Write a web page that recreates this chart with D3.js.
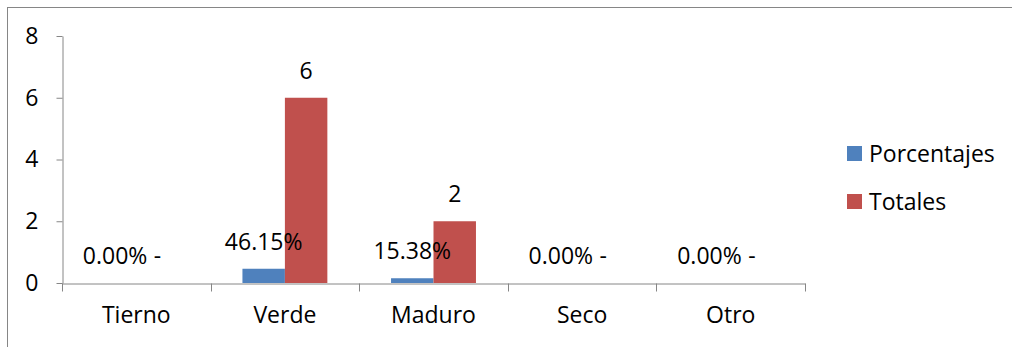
<!DOCTYPE html>
<html>
<head>
<meta charset="utf-8">
<script src="https://cdn.jsdelivr.net/npm/d3@7"></script>
<style>
  html, body { margin: 0; padding: 0; background: #fff; }
  svg { display: block; font-family: "Open Sans", sans-serif; }
</style>
</head>
<body>
<svg id="chart" width="1012" height="347"></svg>
<script>
// Categories and series
const categories = ["Tierno", "Verde", "Maduro", "Seco", "Otro"];
const seriesNames = ["Porcentajes", "Totales"];
const porcentajes = [0, 0.4615, 0.1538, 0, 0];
const totales = [0, 6, 2, 0, 0];
const yTicks = [0, 2, 4, 6, 8];

const colors = { Porcentajes: "#4F81BD", Totales: "#C0504D" };
const axisColor = "#868686";
const fontSize = 23;

const svg = d3.select("#chart");

// Outer chart frame
svg.append("rect")
  .attr("x", 7.5).attr("y", 7.5)
  .attr("width", 1040).attr("height", 380)
  .attr("fill", "none").attr("stroke", axisColor).attr("stroke-width", 1);

const plot = { left: 62, right: 805, top: 36, bottom: 283 };

const x = d3.scaleBand().domain(categories).range([plot.left, plot.right]).padding(0);
const xs = d3.scaleBand().domain(seriesNames).range([0, x.bandwidth()])
  .paddingInner(0).paddingOuter(0.75);
const y = d3.scaleLinear().domain([0, 8]).range([plot.bottom, plot.top]);

const rows = categories.map((c, i) => ({
  cat: c,
  values: [
    { key: "Porcentajes", value: porcentajes[i], label: d3.format(".2%")(porcentajes[i]) },
    { key: "Totales", value: totales[i], label: totales[i] === 0 ? "-" : String(totales[i]) }
  ]
}));

// Bars
const groups = svg.append("g").selectAll("g")
  .data(rows).join("g")
  .attr("transform", d => `translate(${x(d.cat)},0)`);

groups.selectAll("rect")
  .data(d => d.values.filter(v => v.value > 0))
  .join("rect")
  .attr("x", v => xs(v.key))
  .attr("y", v => y(v.value))
  .attr("width", xs.bandwidth())
  .attr("height", v => y(0) - y(v.value))
  .attr("fill", v => colors[v.key]);

// Y axis
const yAxis = svg.append("g")
  .attr("transform", `translate(${plot.left + 0.5},0)`)
  .call(d3.axisLeft(y).tickValues(yTicks).tickFormat(d3.format("d"))
    .tickSize(6).tickSizeOuter(0).tickPadding(18));
yAxis.select(".domain").attr("stroke", axisColor);
yAxis.selectAll(".tick line").attr("stroke", axisColor);
yAxis.selectAll(".tick text")
  .attr("fill", "#000").attr("font-size", fontSize).attr("font-family", "Open Sans");

// X axis: line, boundary ticks, centered labels
const xAxis = svg.append("g")
  .attr("transform", `translate(0,${plot.bottom + 0.5})`)
  .call(d3.axisBottom(x).tickSize(0).tickSizeOuter(0).tickPadding(23));
xAxis.select(".domain").attr("stroke", axisColor);
xAxis.selectAll(".tick text")
  .attr("fill", "#000").attr("font-size", fontSize).attr("font-family", "Open Sans");

const boundaries = categories.map(c => x(c)).concat([x(categories[categories.length - 1]) + x.bandwidth()]);
xAxis.selectAll("line.bound")
  .data(boundaries).join("line")
  .attr("class", "bound")
  .attr("x1", d => Math.round(d) + 0.5).attr("x2", d => Math.round(d) + 0.5)
  .attr("y1", 0).attr("y2", 8)
  .attr("stroke", axisColor);

// Data labels above each bar
groups.selectAll("text.lbl")
  .data(d => d.values)
  .join("text")
  .attr("class", "lbl")
  .attr("x", v => xs(v.key) + xs.bandwidth() / 2)
  .attr("y", v => y(v.value) - 19)
  .attr("text-anchor", "middle")
  .attr("font-size", fontSize)
  .attr("fill", "#000")
  .text(v => v.label);

// Legend
const legend = svg.append("g").attr("transform", "translate(847,146)");
const li = legend.selectAll("g").data(seriesNames).join("g")
  .attr("transform", (d, i) => `translate(0,${i * 48})`);
li.append("rect").attr("width", 15).attr("height", 15).attr("fill", d => colors[d]);
li.append("text")
  .attr("x", 22).attr("y", 16)
  .attr("font-size", fontSize).attr("fill", "#000")
  .text(d => d);
</script>
</body>
</html>
